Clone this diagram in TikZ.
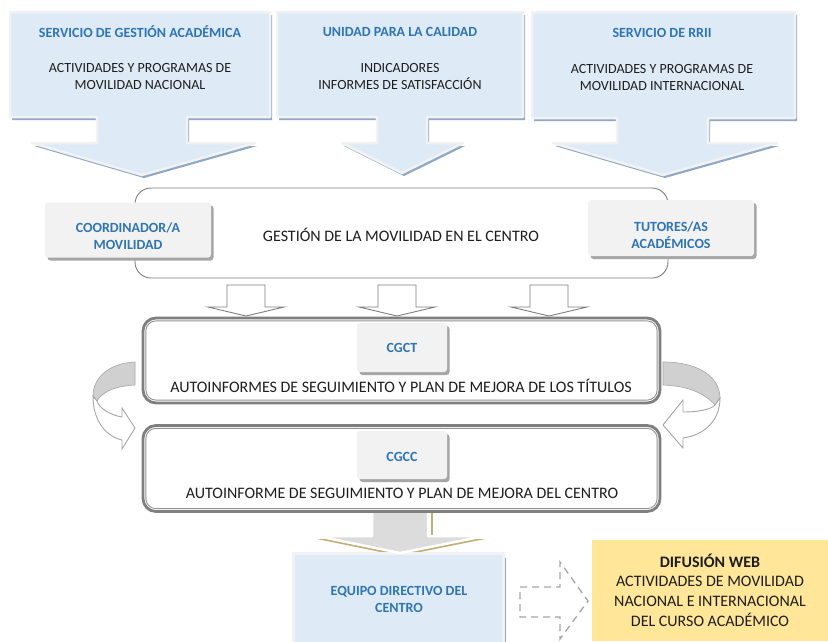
\documentclass[tikz,border=0pt]{standalone}
\usepackage{fontspec}
\setmainfont{Carlito}
\usetikzlibrary{shadows}
\definecolor{lblue}{HTML}{DEEAF6}
\definecolor{bord}{HTML}{F2F2F2}
\definecolor{shblue}{HTML}{8EA9C8}
\definecolor{tblue}{HTML}{2E75B6}
\definecolor{gfill}{HTML}{F2F2F2}
\definecolor{gshadow}{HTML}{A6A6A6}
\definecolor{frame}{HTML}{7F7F7F}
\definecolor{tanc}{HTML}{C4AE78}
\definecolor{yel}{HTML}{FFE699}
\definecolor{txt}{HTML}{1E1E1E}
\definecolor{curvegray}{HTML}{D0D0D0}
\definecolor{stemgray}{HTML}{DCDCDC}
\tikzset{
  hdr/.style={font=\fontsize{14}{17}\selectfont\bfseries, text=tblue, align=center, inner sep=0},
  body/.style={font=\fontsize{14}{17}\selectfont, text=txt, align=center, inner sep=0},
  big/.style={font=\fontsize{16}{19.7}\selectfont, text=txt, align=center, inner sep=0},
  callout/.style={fill=lblue, draw=bord, line width=2.5, line join=round},
  callshadow/.style={fill=shblue},
  graybox/.style={fill=gfill, rounded corners=3, inner sep=0,
    drop shadow={shadow xshift=2.5pt, shadow yshift=-3pt, fill=gshadow, opacity=1}},
  outerframe/.style={draw=frame, fill=white, line width=2.8, rounded corners=13, inner sep=0},
  innerframe/.style={draw=frame!85, line width=0.9, rounded corners=10},
  outarrow/.style={draw=frame, fill=white, line width=0.9, line join=miter},
  curveback/.style={fill=curvegray, draw=gshadow, line width=0.6},
  curvefront/.style={fill=white, draw=gshadow, line width=0.9},
}
\begin{document}
\begin{tikzpicture}[x=1pt, y=-1pt]
\useasboundingbox (0,0) rectangle (828,641);
\fill[white] (0,0) rectangle (828,641);

% ---- top callouts
\fill[callshadow, shift={(2,3)}] (10,12) -- (270,12) -- (270,117) -- (187,117) -- (187,143) -- (255,143) -- (142,175) -- (32,143) -- (97,143) -- (97,117) -- (10,117) -- cycle;
\path[callout] (10,12) -- (270,12) -- (270,117) -- (187,117) -- (187,143) -- (255,143) -- (142,175) -- (32,143) -- (97,143) -- (97,117) -- (10,117) -- cycle;

\fill[callshadow, shift={(2,3)}] (277,12) -- (523,12) -- (523,117) -- (427,117) -- (427,143) -- (463,143) -- (402,173) -- (342,143) -- (377,143) -- (377,117) -- (277,117) -- cycle;
\path[callout] (277,12) -- (523,12) -- (523,117) -- (427,117) -- (427,143) -- (463,143) -- (402,173) -- (342,143) -- (377,143) -- (377,117) -- (277,117) -- cycle;

\fill[callshadow, shift={(2,3)}] (532,12) -- (795,12) -- (795,118) -- (708,118) -- (708,143) -- (777,143) -- (663,175) -- (553,143) -- (617,143) -- (617,118) -- (532,118) -- cycle;
\path[callout] (532,12) -- (795,12) -- (795,118) -- (708,118) -- (708,143) -- (777,143) -- (663,175) -- (553,143) -- (617,143) -- (617,118) -- (532,118) -- cycle;

\node[hdr] (h1) at (140,32) {SERVICIO DE GESTIÓN ACADÉMICA};
\node[body] (b1) at (140,76) {ACTIVIDADES Y PROGRAMAS DE\\MOVILIDAD NACIONAL};
\node[hdr] (h2) at (400,32) {UNIDAD PARA LA CALIDAD};
\node[body] (b2) at (400,76) {INDICADORES\\INFORMES DE SATISFACCIÓN};
\node[hdr] (h3) at (662,33) {SERVICIO DE RRII};
\node[body] (b3) at (662,77) {ACTIVIDADES Y PROGRAMAS DE\\MOVILIDAD INTERNACIONAL};

% ---- gestion box
\node[draw=frame, line width=0.9, rounded corners=16, minimum width=533, minimum height=90, inner sep=0] (gest) at (401.5,233) {};
\node[big] (gtext) at (401,235) {GESTIÓN DE LA MOVILIDAD EN EL CENTRO};
\node[graybox, minimum width=166, minimum height=55] (coord) at (128,230) {};
\node[hdr] (coordt) at (128,236) {COORDINADOR/A\\MOVILIDAD};
\node[graybox, minimum width=166, minimum height=56] (tutor) at (671,228) {};
\node[hdr] (tutort) at (671,235) {TUTORES/AS\\ACADÉMICOS};

% ---- small outline arrows
\foreach \cx in {246,397,549}{
  \draw[outarrow] (\cx-19,285) -- (\cx+19,285) -- (\cx+19,307) -- (\cx+38,307) -- (\cx,316) -- (\cx-38,307) -- (\cx-19,307) -- cycle;
}

% ---- bottom arrow (behind frames)
\fill[tanc, shift={(0,3)}] (372,512) -- (428,512) -- (428,536) -- (485,536) -- (400,553) -- (317,536) -- (372,536) -- cycle;
\draw[tanc, line width=1.2] (432,512) -- (432,536);

% ---- EQUIPO box
\fill[shblue] (503,558) rectangle (506,645);
\node[fill=lblue, draw=bord, line width=3, minimum width=210, minimum height=92, inner sep=0] (equipo) at (398,599) {};
\node[hdr] (equipot) at (399,599) {EQUIPO DIRECTIVO DEL\\CENTRO};
\path[fill=stemgray, draw=white, line width=2.5, line join=round] (372,510) -- (428,510) -- (428,536) -- (485,536) -- (400,553) -- (317,536) -- (372,536) -- cycle;

% ---- CGCT frame
\node[outerframe, minimum width=517, minimum height=85] (cgctf) at (401.5,360.5) {};
\draw[innerframe] ([shift={(4.3,4.3)}]cgctf.north west) rectangle ([shift={(-4.3,-4.3)}]cgctf.south east);
\node[graybox, minimum width=90, minimum height=49] (cgct) at (402,347.5) {};
\node[hdr] (cgctt) at (402,348) {CGCT};
\node[big] (t1) at (401,386) {AUTOINFORMES DE SEGUIMIENTO Y PLAN DE MEJORA DE LOS TÍTULOS};

% ---- CGCC frame
\node[outerframe, minimum width=517, minimum height=86] (cgccf) at (401.5,468.5) {};
\draw[innerframe] ([shift={(4.3,4.3)}]cgccf.north west) rectangle ([shift={(-4.3,-4.3)}]cgccf.south east);
\node[graybox, minimum width=90, minimum height=48] (cgcc) at (402,455) {};
\node[hdr] (cgcct) at (402,457) {CGCC};
\node[big] (t2) at (402,493) {AUTOINFORME DE SEGUIMIENTO Y PLAN DE MEJORA DEL CENTRO};

% ---- curved arrows
\path[curveback] (135,362) .. controls (110,363) and (93,377) .. (93,396) -- (97,401) .. controls (102,392) and (115,386) .. (135,385) -- cycle;
\path[curvefront] (93,396) .. controls (93,420) and (105,436) .. (122,440) -- (122,449) -- (135,428) -- (122,408) -- (122,417) .. controls (110,415) and (99,408) .. (97,401) -- cycle;

\path[curveback] (663,362) .. controls (700,362) and (720,378) .. (720,398) -- (715,405) .. controls (705,394) and (690,386) .. (663,385) -- cycle;
\path[curvefront] (720,398) .. controls (720,420) and (705,435) .. (683,438) -- (683,448) -- (663,425) -- (683,400) -- (683,412) .. controls (697,412) and (710,410) .. (715,405) -- cycle;

% ---- dashed arrow and web box
\draw[gshadow, line width=1.3, dash pattern=on 7pt off 5pt] (520,587) -- (560,587) -- (560,562) -- (588,601) -- (560,639) -- (560,617) -- (520,617) -- cycle;
\fill[yel] (592,540) rectangle (828,641);
\node[big] (web) at (710,590) {\textbf{DIFUSIÓN WEB}\\ACTIVIDADES DE MOVILIDAD\\NACIONAL E INTERNACIONAL\\DEL CURSO ACADÉMICO};
\end{tikzpicture}
\end{document}
